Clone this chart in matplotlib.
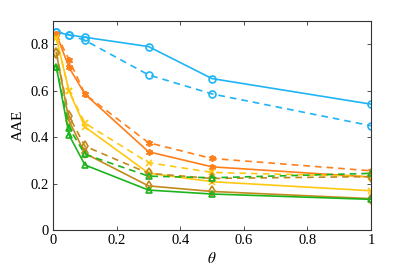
import matplotlib
matplotlib.use("Agg")
import matplotlib.pyplot as plt

plt.rcParams["font.family"] = ["Liberation Serif", "DejaVu Serif"]
plt.rcParams["mathtext.fontset"] = "stix"

theta = [0.01, 0.05, 0.1, 0.3, 0.5, 1.0]

blue_solid = [0.853, 0.84, 0.83, 0.79, 0.652, 0.542]
blue_dash = [0.853, 0.84, 0.817, 0.668, 0.586, 0.449]
orange_solid = [0.843, 0.70, 0.585, 0.337, 0.272, 0.228]
orange_dash = [0.843, 0.734, 0.585, 0.376, 0.308, 0.255]
yellow_solid = [0.826, 0.598, 0.444, 0.245, 0.208, 0.169]
yellow_dash = [0.826, 0.598, 0.46, 0.29, 0.248, 0.23]
brown_solid = [0.764, 0.47, 0.33, 0.19, 0.166, 0.135]
brown_dash = [0.764, 0.49, 0.361, 0.244, 0.222, 0.23]
green_solid = [0.703, 0.409, 0.28, 0.172, 0.155, 0.132]
green_dash = [0.703, 0.44, 0.326, 0.232, 0.225, 0.244]

c_blue = "#1fb4f5"
c_orange = "#ff7f1a"
c_yellow = "#ffc810"
c_brown = "#c28a1c"
c_green = "#1cb41c"
asterisk = (6, 2, 0)

series = [
    (blue_solid, c_blue, "-", "o"),
    (blue_dash, c_blue, "--", "o"),
    (orange_solid, c_orange, "-", asterisk),
    (orange_dash, c_orange, "--", asterisk),
    (yellow_solid, c_yellow, "-", "x"),
    (yellow_dash, c_yellow, "--", "x"),
    (brown_solid, c_brown, "-", "d"),
    (brown_dash, c_brown, "--", "d"),
    (green_solid, c_green, "-", "^"),
    (green_dash, c_green, "--", "^"),
]

fig = plt.figure(figsize=(4.09, 2.73), dpi=100)
ax = fig.add_axes([0.130, 0.1575, 0.777, 0.7655])

for ys, col, ls, mk in series:
    line, = ax.plot(theta, ys, color=col, linestyle=ls, marker=mk, markersize=5,
                    markerfacecolor="none", markeredgewidth=1.2, linewidth=1.2)
    if ls == "--":
        line.set_dashes((4, 3))

ax.set_xlim(0, 1)
ax.set_ylim(0, 0.9)
ax.set_xticks([0, 0.2, 0.4, 0.6, 0.8, 1])
ax.set_xticklabels(["0", "0.2", "0.4", "0.6", "0.8", "1"])
ax.set_yticks([0, 0.2, 0.4, 0.6, 0.8])
ax.set_yticklabels(["0", "0.2", "0.4", "0.6", "0.8"])
ax.tick_params(direction="in", top=True, right=True, labelsize=10.5, length=3,
               width=0.6, color="#333333", pad=3)
for s in ax.spines.values():
    s.set_linewidth(0.8)
    s.set_color("#333333")
ax.set_xlabel(r"$\theta$", fontsize=11, labelpad=3)
ax.set_ylabel("AAE", fontsize=11, labelpad=4)

fig.savefig("out.png", dpi=100)
